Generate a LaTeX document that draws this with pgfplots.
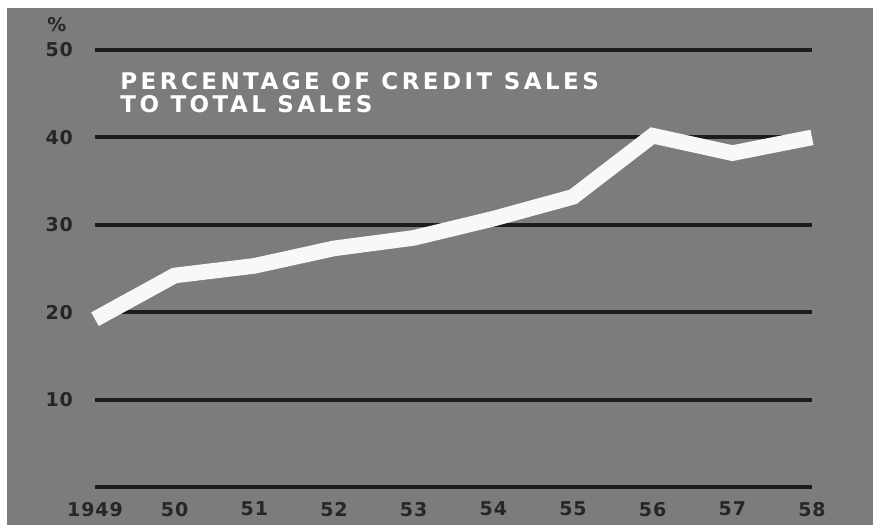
\documentclass[border=0pt]{standalone}
\usepackage{pgfplots}
\pgfplotsset{compat=1.18}
\usepackage{fontspec}
\setmainfont{DejaVu Sans}
\newfontfamily\labfont{DejaVu Sans}[LetterSpace=5]
\newfontfamily\titlefont{DejaVu Sans}[LetterSpace=15]
\definecolor{bg}{RGB}{124,124,124}
\definecolor{lab}{RGB}{38,38,38}
\definecolor{gridc}{RGB}{28,28,28}
\definecolor{linec}{RGB}{248,248,248}
\begin{document}
\begin{tikzpicture}
\path[use as bounding box, fill=white] (0,0) rectangle (439pt,-262.5pt);
\fill[bg] (3.5pt,-4pt) rectangle (436.5pt,-262.5pt);
\begin{axis}[
  at={(47.5pt,-243.5pt)}, anchor=south west,
  scale only axis, width=358.5pt, height=218.5pt,
  xmin=1949, xmax=1958, ymin=0, ymax=50,
  axis line style={draw=none}, major tick length=0pt,
  xtick={1949,1950,1951,1952,1953,1954,1955,1956,1957,1958},
  xticklabels={1949,50,51,52,53,54,55,56,57,58},
  ytick={0,10,20,30,40,50},
  yticklabels={,10,20,30,40,50},
  ymajorgrids,
  grid style={line width=2pt, color=gridc},
  tick label style={font=\labfont\bfseries\fontsize{9.5}{11}\selectfont, color=lab},
  /pgf/number format/assume math mode=true,
  yticklabel style={xshift=-7.5pt},
  xticklabel style={yshift=-4pt},
  clip=false,
]
\addplot[color=linec, line width=7.8pt, line join=miter] coordinates {
  (1949,19.2) (1950,24.2) (1951,25.3) (1952,27.3) (1953,28.5)
  (1954,30.7) (1955,33.2) (1956,40.2) (1957,38.2) (1958,40.0)
};
\node[font=\labfont\bfseries\fontsize{9.5}{11}\selectfont, color=lab] at (axis cs:1949,50) [xshift=-19pt, yshift=12.5pt] {\%};
\node[font=\titlefont\bfseries\fontsize{11.5}{11.5}\selectfont, color=white, anchor=north west, align=left, inner sep=0pt] at (axis cs:1949,50) [xshift=12.5pt, yshift=-11pt] {PERCENTAGE OF CREDIT SALES\\TO TOTAL SALES};
\end{axis}
\end{tikzpicture}
\end{document}
